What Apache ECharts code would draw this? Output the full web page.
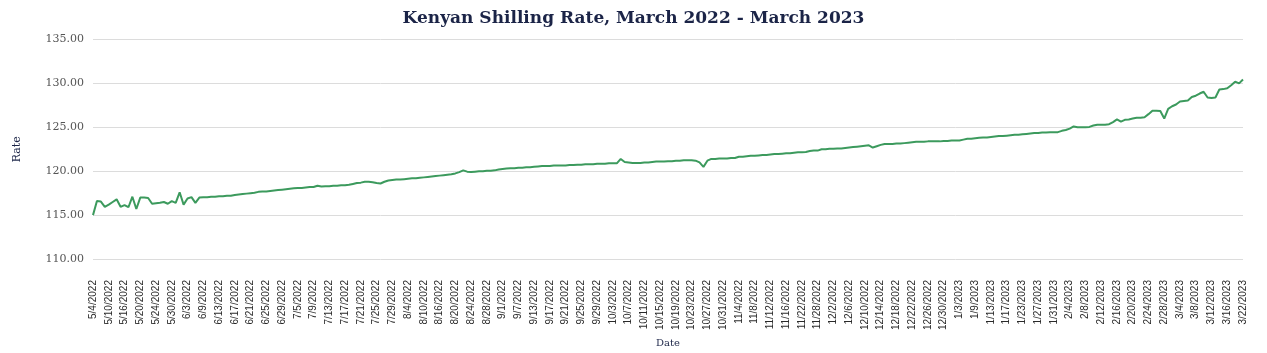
<!DOCTYPE html>
<html>
<head>
<meta charset="utf-8">
<script src="https://cdn.jsdelivr.net/npm/echarts@6/dist/echarts.min.js"></script>
<style>
html,body{margin:0;padding:0;background:#fff;}
#chart{width:1267px;height:353px;}
</style>
</head>
<body>
<div id="chart"></div>
<script>
// Tick labels shown on the date axis (every 4th observation)
const tickLabels = [
'5/4/2022','5/10/2022','5/16/2022','5/20/2022','5/24/2022','5/30/2022','6/3/2022','6/9/2022','6/13/2022','6/17/2022',
'6/21/2022','6/25/2022','6/29/2022','7/5/2022','7/9/2022','7/13/2022','7/17/2022','7/21/2022','7/25/2022','7/29/2022',
'8/4/2022','8/10/2022','8/16/2022','8/20/2022','8/24/2022','8/28/2022','9/1/2022','9/7/2022','9/13/2022','9/17/2022',
'9/21/2022','9/25/2022','9/29/2022','10/3/2022','10/7/2022','10/11/2022','10/15/2022','10/19/2022','10/23/2022','10/27/2022',
'10/31/2022','11/4/2022','11/8/2022','11/12/2022','11/16/2022','11/22/2022','11/28/2022','12/2/2022','12/6/2022','12/10/2022',
'12/14/2022','12/18/2022','12/22/2022','12/26/2022','12/30/2022','1/3/2023','1/9/2023','1/13/2023','1/17/2023','1/23/2023',
'1/27/2023','1/31/2023','2/4/2023','2/8/2023','2/12/2023','2/16/2023','2/20/2023','2/24/2023','2/28/2023','3/4/2023',
'3/8/2023','3/12/2023','3/16/2023','3/22/2023'
];

// Exchange rate (KES per USD)
const rate = [
115.00,116.60,116.55,115.95,116.20,116.50,116.80,115.95,116.15,115.90,
117.10,115.70,117.00,117.00,116.95,116.30,116.35,116.40,116.50,116.30,
116.60,116.40,117.60,116.20,116.90,117.05,116.40,117.00,117.05,117.05,
117.10,117.10,117.15,117.15,117.20,117.20,117.30,117.35,117.40,117.45,
117.50,117.55,117.65,117.70,117.70,117.75,117.80,117.85,117.90,117.95,
118.00,118.05,118.10,118.10,118.15,118.20,118.20,118.35,118.25,118.30,
118.30,118.35,118.35,118.40,118.40,118.45,118.55,118.65,118.70,118.80,
118.80,118.75,118.65,118.60,118.80,118.95,119.00,119.05,119.05,119.10,
119.15,119.20,119.20,119.25,119.30,119.35,119.40,119.45,119.50,119.55,
119.60,119.65,119.75,119.90,120.10,119.95,119.90,119.95,120.00,120.00,
120.05,120.05,120.10,120.20,120.25,120.30,120.35,120.35,120.40,120.40,
120.45,120.45,120.50,120.55,120.60,120.60,120.60,120.65,120.65,120.65,
120.65,120.70,120.70,120.75,120.75,120.80,120.80,120.80,120.85,120.85,
120.85,120.90,120.90,120.90,121.40,121.05,121.00,120.95,120.95,120.95,
121.00,121.00,121.05,121.10,121.10,121.10,121.15,121.15,121.20,121.20,
121.25,121.25,121.25,121.20,121.00,120.50,121.20,121.40,121.40,121.45,
121.45,121.45,121.50,121.50,121.65,121.65,121.70,121.75,121.75,121.80,
121.85,121.85,121.90,121.95,121.95,122.00,122.05,122.05,122.10,122.15,
122.15,122.20,122.30,122.35,122.35,122.50,122.50,122.55,122.55,122.60,
122.60,122.65,122.70,122.75,122.80,122.85,122.90,122.95,122.70,122.85,
123.00,123.10,123.10,123.10,123.15,123.15,123.20,123.25,123.30,123.35,
123.35,123.35,123.40,123.40,123.40,123.40,123.45,123.45,123.50,123.50,
123.50,123.60,123.70,123.70,123.75,123.80,123.85,123.85,123.90,123.95,
124.00,124.00,124.05,124.10,124.15,124.15,124.20,124.25,124.30,124.35,
124.35,124.40,124.40,124.45,124.45,124.45,124.60,124.70,124.85,125.10,
125.00,125.00,125.00,125.05,125.20,125.30,125.30,125.30,125.35,125.60,
125.90,125.65,125.85,125.90,126.00,126.10,126.10,126.15,126.50,126.90,
126.90,126.85,126.00,127.10,127.40,127.60,127.95,128.00,128.05,128.45,
128.60,128.85,129.05,128.40,128.35,128.40,129.30,129.35,129.45,129.80,
130.20,130.00,130.45
];

const yTicks = [110, 115, 120, 125, 130, 135];
const pointsPerTick = 4;

// Category list: each tick label, followed by unlabeled observations
const categories = [];
tickLabels.forEach(function (lab, i) {
  categories.push(lab);
  if (i < tickLabels.length - 1) {
    for (let k = 1; k < pointsPerTick; k++) categories.push(lab + '#' + k);
  }
});

const chart = echarts.init(document.getElementById('chart'), null, {renderer: 'canvas'});
chart.setOption({
  animation: false,
  backgroundColor: '#ffffff',
  title: {
    text: 'Kenyan Shilling Rate, March 2022 - March 2023',
    left: 'center',
    top: 5,
    textStyle: {
      fontFamily: 'DejaVu Serif',
      fontSize: 17,
      fontWeight: 'bold',
      color: '#1b2447'
    }
  },
  grid: {left: 93, right: 24, top: 39.5, bottom: 353 - 262.3, containLabel: false},
  xAxis: {
    type: 'category',
    data: categories,
    boundaryGap: false,
    name: 'Date',
    nameLocation: 'middle',
    nameGap: 74,
    nameTextStyle: {fontFamily: 'DejaVu Serif', fontSize: 10, color: '#1b2447'},
    axisLine: {show: false},
    axisTick: {show: false},
    splitLine: {show: false},
    axisLabel: {
      interval: pointsPerTick - 1,
      rotate: 90,
      margin: 21,
      fontFamily: '"Liberation Sans Narrow", "Liberation Sans", sans-serif',
      fontSize: 10,
      color: '#2a2a2a',
      formatter: function (v) { return v.indexOf('#') >= 0 ? '' : v; }
    }
  },
  yAxis: {
    type: 'value',
    min: yTicks[0],
    max: yTicks[yTicks.length - 1],
    interval: 5,
    name: 'Rate',
    nameLocation: 'middle',
    nameGap: 70,
    nameRotate: 90,
    nameTextStyle: {fontFamily: 'DejaVu Serif', fontSize: 11, color: '#1b2447'},
    axisLine: {show: false},
    axisTick: {show: false},
    splitLine: {lineStyle: {color: '#dcdcdc', width: 1}},
    axisLabel: {
      margin: 9,
      fontFamily: 'DejaVu Serif',
      fontSize: 11,
      color: '#555555',
      formatter: function (v) { return v.toFixed(2); }
    }
  },
  series: [{
    type: 'line',
    data: rate,
    showSymbol: false,
    symbol: 'none',
    lineStyle: {color: '#3c9a5d', width: 2},
    itemStyle: {color: '#3c9a5d'}
  }]
});
</script>
</body>
</html>
